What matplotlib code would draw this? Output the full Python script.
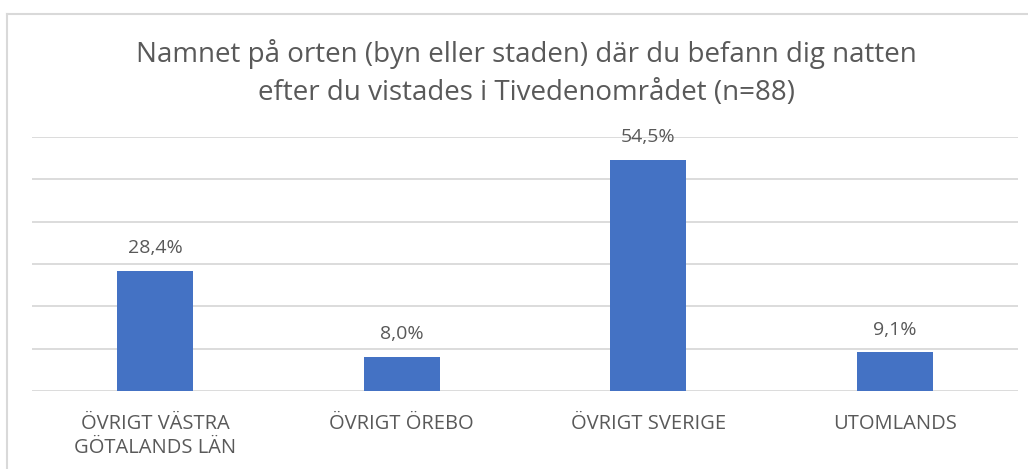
import matplotlib.pyplot as plt
from matplotlib.lines import Line2D

plt.rcParams['font.family'] = ['Open Sans', 'DejaVu Sans']

kategorier = ['ÖVRIGT VÄSTRA\nGÖTALANDS LÄN', 'ÖVRIGT ÖREBO', 'ÖVRIGT SVERIGE', 'UTOMLANDS']
andel = [28.4, 8.0, 54.5, 9.1]
titel = 'Namnet på orten (byn eller staden) där du befann dig natten\nefter du vistades i Tivedenområdet (n=88)'

W, H = 1028, 469
fig = plt.figure(figsize=(W / 100, H / 100), dpi=100)
ax = fig.add_axes([32 / W, 1 - 391 / H, (1018 - 32) / W, (391 - 137) / H])

grå = '#595959'
x = range(len(kategorier))
ax.bar(x, andel, width=0.31, color='#4472C4', zorder=3)
ax.set_xlim(-0.5, len(kategorier) - 0.5)
ax.set_ylim(0, 60)
ax.set_yticks(range(0, 61, 10))
ax.yaxis.grid(True, color='#D9D9D9', linewidth=1.3, zorder=0)
ax.tick_params(left=False, labelleft=False, bottom=False)
for s in ax.spines.values():
    s.set_visible(False)
ax.set_xticks(list(x))
ax.set_xticklabels(kategorier, fontsize=14.5, color=grå, linespacing=1.3)
ax.tick_params(axis='x', pad=13)

for i, v in enumerate(andel):
    ax.annotate(f'{v:.1f}%'.replace('.', ','), (i, v), xytext=(0, 10),
                textcoords='offset points', ha='center', va='bottom',
                fontsize=14, color=grå)

fig.text(526 / W, 1 - 73 / H, titel, ha='center', va='center', fontsize=20,
         color=grå, linespacing=1.45)

# ram runt diagrammet (bara vänster och övre kant syns)
fig.add_artist(Line2D([7 / W, 7 / W], [0, 1 - 14 / H], color='#D9D9D9', linewidth=1.5))
fig.add_artist(Line2D([7 / W, 1], [1 - 14 / H, 1 - 14 / H], color='#D9D9D9', linewidth=1.5))

fig.savefig('out.png', dpi=100)
